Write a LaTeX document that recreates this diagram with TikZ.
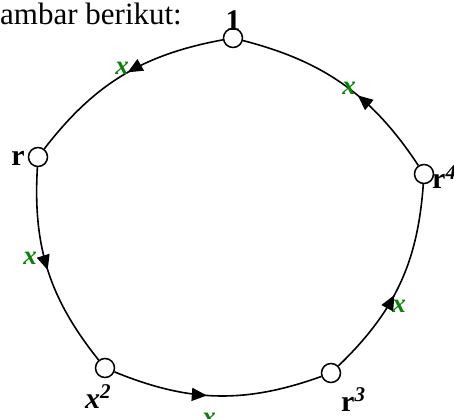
\documentclass[tikz,border=0pt]{standalone}
\usepackage{fontspec}
\setmainfont{Liberation Serif}
\usetikzlibrary{arrows.meta,decorations.markings}
\definecolor{xgreen}{RGB}{10,128,10}
\begin{document}
\begin{tikzpicture}[x=1pt,y=-1pt,
  vtx/.style={draw,circle,fill=white,line width=1.5pt,minimum size=19pt,inner sep=0pt},
  lbl/.style={font=\fontsize{30}{32}\selectfont\bfseries,inner sep=0pt},
  elbl/.style={font=\fontsize{27}{30}\selectfont\bfseries\itshape,text=xgreen,inner sep=0pt},
  cyc/.style={line width=1.6pt,bend right=21,postaction={decorate},
    decoration={markings,mark=at position #1 with {\arrow{Triangle[length=15pt,width=13pt]}}}},
  cyc/.default=0.5]
\useasboundingbox (0,0) rectangle (454,419);
% heading, cut off at the left edge
\node[anchor=base west,inner sep=0pt,font=\fontsize{31}{34}\selectfont] (head) at (0,25) {ambar berikut:};
% the five elements on the cycle
\node[vtx] (one) at (233,38) {};
\node[vtx] (r) at (38,157) {};
\node[vtx] (rfour) at (424,174) {};
\node[vtx] (xtwo) at (105,368) {};
\node[vtx] (rthree) at (331,373) {};
\node[lbl,anchor=base] (lone) at (233,31) {1};
\node[lbl,anchor=base east] (lr) at (25,166) {r};
\node[lbl,anchor=base west] (lrfour) at (432,189) {r\textsuperscript{\itshape 4}};
\node[lbl,anchor=base west] (lxtwo) at (85,408) {\itshape x\textsuperscript{2}};
\node[lbl,anchor=base west] (lrthree) at (341,411) {r\textsuperscript{\itshape 3}};
% arrows of the cycle
\draw[cyc=0.47] (one) to (r);
\draw[cyc] (r) to (xtwo);
\draw[cyc=0.45] (xtwo) to (rthree);
\draw[cyc=0.44] (rthree) to (rfour);
\draw[cyc=0.42] (rfour) to (one);
\node[elbl] (xa) at (122,68) {x};
\node[elbl] (xb) at (30,258) {x};
\node[elbl] (xc) at (209,419) {x};
\node[elbl] (xd) at (399,306) {x};
\node[elbl] (xe) at (349,88) {x};
\end{tikzpicture}
\end{document}
